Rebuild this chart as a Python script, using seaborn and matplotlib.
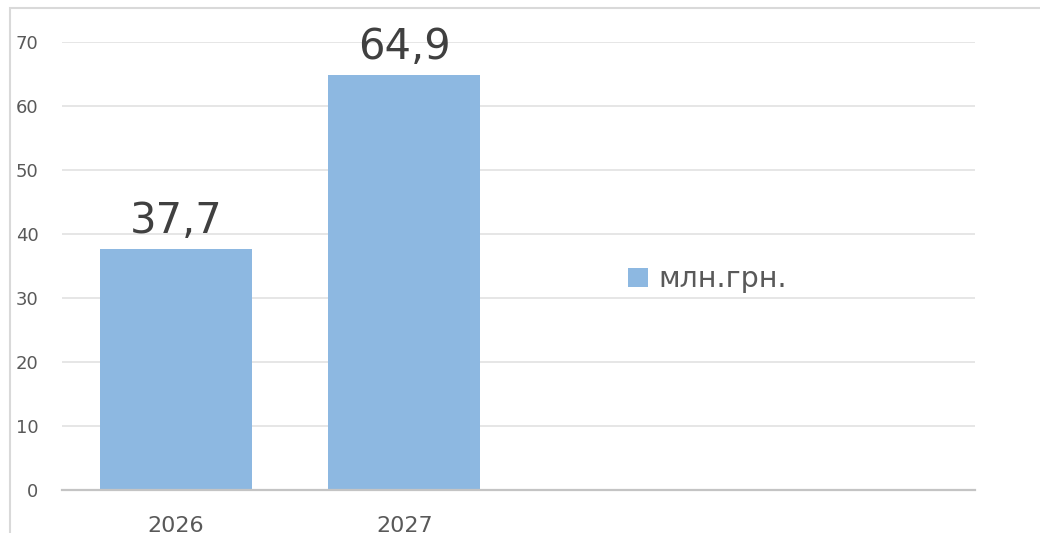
import numpy as np
import pandas as pd
import seaborn as sns
import matplotlib.pyplot as plt
from matplotlib.patches import Patch, Rectangle

# Data
years = ['2026', '2027']
values = [37.7, 64.9]
series_name = 'млн.грн.'

df = pd.DataFrame({'year': years, 'value': values})

sns.set_style("white")
plt.rcParams['font.family'] = ['DejaVu Sans']

bar_color = '#8DB8E1'
grid_color = '#E4E4E4'

fig = plt.figure(figsize=(10.4, 5.33), dpi=100)
ax = fig.add_axes([62 / 1040, 1 - 490 / 533, 913 / 1040, 448 / 533])

sns.barplot(data=df, x='year', y='value', color=bar_color, width=0.665,
            saturation=1, edgecolor='none', linewidth=0, ax=ax)

# four category slots, only two filled
ax.set_xlim(-0.5, 3.5)
ax.set_ylim(0, 70)
ax.set_yticks(np.arange(0, 71, 10))
ax.set_xlabel('')
ax.set_ylabel('')

ax.yaxis.grid(True, color=grid_color, linewidth=1.3)
ax.set_axisbelow(True)
for side in ['top', 'right', 'left']:
    ax.spines[side].set_visible(False)
ax.spines['bottom'].set_color('#C4C4C4')
ax.spines['bottom'].set_linewidth(1.6)

ax.tick_params(axis='y', length=0, pad=17, labelsize=13, labelcolor='#595959')
ax.tick_params(axis='x', length=0, pad=19, labelsize=16, labelcolor='#595959')

# data labels
for i, v in enumerate(values):
    ax.annotate(f'{v:.1f}'.replace('.', ','), (i, v), xytext=(0, 5),
                textcoords='offset points', ha='center', va='bottom',
                fontsize=30, color='#404040')

# legend
handle = Patch(facecolor=bar_color, edgecolor='none')
ax.legend([handle], [series_name], loc='center left',
          bbox_to_anchor=(0.592, 0.47), frameon=False, fontsize=20.5,
          handlelength=0.7, handleheight=0.7, handletextpad=0.35,
          labelcolor='#595959')

# outer chart frame (partially cropped)
fig.patches.append(Rectangle((9.5 / 1040, -0.1), 1.2, 1.1 - 8.5 / 533,
                             transform=fig.transFigure, fill=False,
                             edgecolor='#D9D9D9', linewidth=1.5))

fig.savefig('out.png', dpi=100)
